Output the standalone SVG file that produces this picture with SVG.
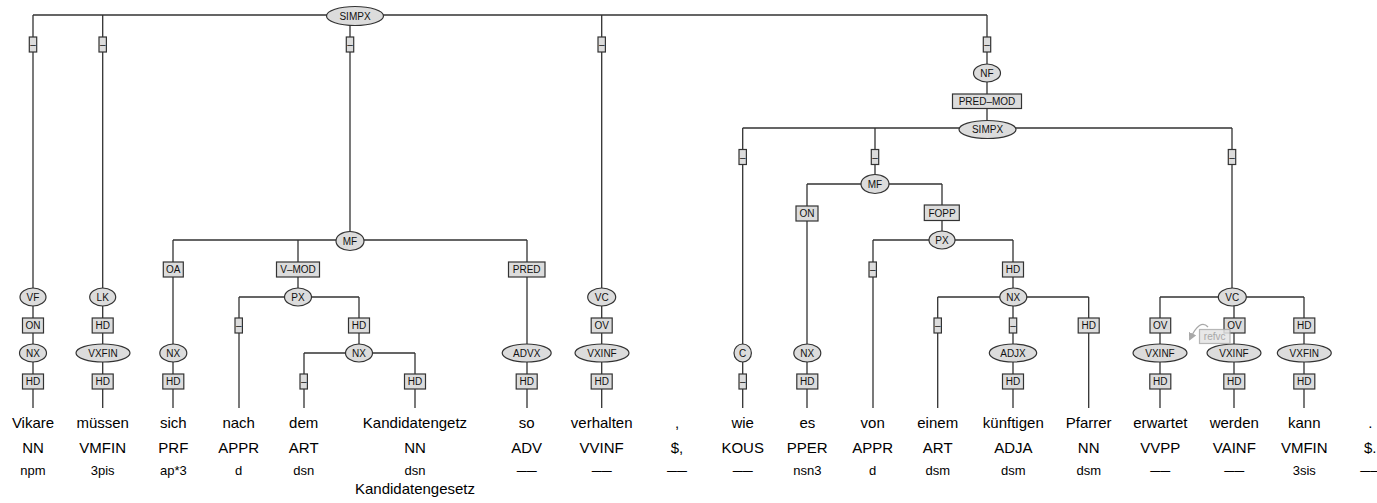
<svg xmlns="http://www.w3.org/2000/svg" width="1377" height="503" viewBox="0 0 1377 503">
<style>
.e{fill:#dcdcdc;stroke:#333;stroke-width:1.2}
.b{fill:#dcdcdc;stroke:#333;stroke-width:1.2}
.c{fill:none;stroke:#333;stroke-width:1.3}
.t{font-family:"Liberation Sans",Arial,sans-serif;font-size:10px;fill:#111;text-anchor:middle}
.w{font-family:"Liberation Sans",Arial,sans-serif;font-size:15px;fill:#000;text-anchor:middle}
.m{font-family:"Liberation Sans",Arial,sans-serif;font-size:13px;fill:#000;text-anchor:middle}
.d{font-family:"Liberation Sans",Arial,sans-serif;font-size:13px;fill:#000;text-anchor:start}
</style>
<defs>
<marker id="ah" markerWidth="8" markerHeight="8" refX="6" refY="4" orient="auto" markerUnits="userSpaceOnUse">
<path d="M0,0 L8,4 L0,8 Z" fill="#999"/>
</marker>
</defs>
<rect width="1377" height="503" fill="#fff"/>
<g id="connectors">
<path class="c" d="M33,15H987 M33,15V408 M102.7,15V408 M350,15V240 M601.7,15V408 M987,15V128"/>
<path class="c" d="M173,240H527 M173,240V408 M298,240V297 M527,240V408"/>
<path class="c" d="M239,297H359 M239,297V408 M359,297V353"/>
<path class="c" d="M304,353H415 M304,353V408 M415,353V408"/>
<path class="c" d="M742.7,128H1232 M742.7,128V408 M875,128V184 M1232,128V297"/>
<path class="c" d="M807,184H942 M807,184V408 M942,184V240"/>
<path class="c" d="M873,240H1013 M873,240V408 M1013,240V297"/>
<path class="c" d="M937.7,297H1088.7 M937.7,297V408 M1013,297V408 M1088.7,297V408"/>
<path class="c" d="M1160,297H1304 M1160,297V408 M1234,297V408 M1304,297V408"/>
</g>
<g id="n_simpx_top"><ellipse class="e" cx="355" cy="16" rx="28.5" ry="9.5"/><text class="t" x="355" y="19.5">SIMPX</text></g>
<g id="e_top1"><rect class="b" x="29.3" y="37" width="7.4" height="15"/><text class="t" x="33" y="48">–</text></g>
<g id="e_top2"><rect class="b" x="99" y="37" width="7.4" height="15"/><text class="t" x="102.7" y="48">–</text></g>
<g id="e_top3"><rect class="b" x="346.3" y="37" width="7.4" height="15"/><text class="t" x="350" y="48">–</text></g>
<g id="e_top4"><rect class="b" x="598" y="37" width="7.4" height="15"/><text class="t" x="601.7" y="48">–</text></g>
<g id="e_top5"><rect class="b" x="983.3" y="37" width="7.4" height="15"/><text class="t" x="987" y="48">–</text></g>
<g id="n_vf"><ellipse class="e" cx="33" cy="297" rx="13" ry="9"/><text class="t" x="33" y="300.5">VF</text></g>
<g id="e_on1"><rect class="b" x="22.5" y="318" width="21" height="15"/><text class="t" x="33" y="329">ON</text></g>
<g id="n_nx1"><ellipse class="e" cx="33" cy="353" rx="13.5" ry="9"/><text class="t" x="33" y="356.5">NX</text></g>
<g id="e_hd1"><rect class="b" x="22.5" y="374" width="21" height="15"/><text class="t" x="33" y="385">HD</text></g>
<g id="n_lk"><ellipse class="e" cx="102.7" cy="297" rx="13" ry="9"/><text class="t" x="102.7" y="300.5">LK</text></g>
<g id="e_hd2"><rect class="b" x="92.2" y="318" width="21" height="15"/><text class="t" x="102.7" y="329">HD</text></g>
<g id="n_vxfin1"><ellipse class="e" cx="103" cy="353" rx="27" ry="9"/><text class="t" x="103" y="356.5">VXFIN</text></g>
<g id="e_hd3"><rect class="b" x="92.2" y="374" width="21" height="15"/><text class="t" x="102.7" y="385">HD</text></g>
<g id="n_mf1"><ellipse class="e" cx="350" cy="241" rx="14" ry="9.5"/><text class="t" x="350" y="244.5">MF</text></g>
<g id="e_oa"><rect class="b" x="163.3" y="262" width="20" height="15"/><text class="t" x="173.3" y="273">OA</text></g>
<g id="n_nx2"><ellipse class="e" cx="173.3" cy="353" rx="13.5" ry="9"/><text class="t" x="173.3" y="356.5">NX</text></g>
<g id="e_hd4"><rect class="b" x="162.8" y="374" width="21" height="15"/><text class="t" x="173.3" y="385">HD</text></g>
<g id="e_vmod"><rect class="b" x="276.5" y="262" width="43" height="15"/><text class="t" x="298" y="273">V–MOD</text></g>
<g id="n_px1"><ellipse class="e" cx="298" cy="297" rx="13.5" ry="9"/><text class="t" x="298" y="300.5">PX</text></g>
<g id="e_d1"><rect class="b" x="235" y="318" width="7.4" height="15"/><text class="t" x="238.7" y="329">–</text></g>
<g id="e_hd5"><rect class="b" x="348.5" y="318" width="21" height="15"/><text class="t" x="359" y="329">HD</text></g>
<g id="n_nx3"><ellipse class="e" cx="359" cy="353" rx="13.5" ry="9"/><text class="t" x="359" y="356.5">NX</text></g>
<g id="e_d2"><rect class="b" x="300" y="374" width="7.4" height="15"/><text class="t" x="303.7" y="385">–</text></g>
<g id="e_hd6"><rect class="b" x="404.5" y="374" width="21" height="15"/><text class="t" x="415" y="385">HD</text></g>
<g id="e_pred"><rect class="b" x="508.5" y="262" width="36.5" height="15"/><text class="t" x="526.7" y="273">PRED</text></g>
<g id="n_advx"><ellipse class="e" cx="526.7" cy="353" rx="24.5" ry="9"/><text class="t" x="526.7" y="356.5">ADVX</text></g>
<g id="e_hd7"><rect class="b" x="516.2" y="374" width="21" height="15"/><text class="t" x="526.7" y="385">HD</text></g>
<g id="n_vc1"><ellipse class="e" cx="601.7" cy="297" rx="14" ry="9"/><text class="t" x="601.7" y="300.5">VC</text></g>
<g id="e_ov1"><rect class="b" x="591.2" y="318" width="21" height="15"/><text class="t" x="601.7" y="329">OV</text></g>
<g id="n_vxinf1"><ellipse class="e" cx="602" cy="353" rx="27" ry="9"/><text class="t" x="602" y="356.5">VXINF</text></g>
<g id="e_hd8"><rect class="b" x="591.2" y="374" width="21" height="15"/><text class="t" x="601.7" y="385">HD</text></g>
<g id="n_nf"><ellipse class="e" cx="987" cy="73" rx="13.5" ry="9"/><text class="t" x="987" y="76.5">NF</text></g>
<g id="e_predmod"><rect class="b" x="952.5" y="94" width="69" height="14.5"/><text class="t" x="987" y="105">PRED–MOD</text></g>
<g id="n_simpx2"><ellipse class="e" cx="987.5" cy="129.5" rx="28.5" ry="9"/><text class="t" x="987.5" y="133">SIMPX</text></g>
<g id="e_d3"><rect class="b" x="739" y="149.5" width="7.4" height="15"/><text class="t" x="742.7" y="160.5">–</text></g>
<g id="n_c"><ellipse class="e" cx="742.7" cy="353" rx="8.7" ry="9"/><text class="t" x="742.7" y="356.5">C</text></g>
<g id="e_d4"><rect class="b" x="739" y="374" width="7.4" height="15"/><text class="t" x="742.7" y="385">–</text></g>
<g id="e_d5"><rect class="b" x="871.3" y="149.5" width="7.4" height="15"/><text class="t" x="875" y="160.5">–</text></g>
<g id="n_mf2"><ellipse class="e" cx="875" cy="184" rx="14" ry="9.5"/><text class="t" x="875" y="187.5">MF</text></g>
<g id="e_on2"><rect class="b" x="796" y="206" width="22" height="15"/><text class="t" x="807" y="217">ON</text></g>
<g id="n_nx4"><ellipse class="e" cx="807.3" cy="353" rx="13.5" ry="9"/><text class="t" x="807.3" y="356.5">NX</text></g>
<g id="e_hd9"><rect class="b" x="796.8" y="374" width="21" height="15"/><text class="t" x="807.3" y="385">HD</text></g>
<g id="e_fopp"><rect class="b" x="924.3" y="205" width="35" height="15.5"/><text class="t" x="942" y="216.5">FOPP</text></g>
<g id="n_px2"><ellipse class="e" cx="942" cy="240" rx="13" ry="9"/><text class="t" x="942" y="243.5">PX</text></g>
<g id="e_d6"><rect class="b" x="869" y="262" width="7.4" height="15"/><text class="t" x="872.7" y="273">–</text></g>
<g id="e_hd10"><rect class="b" x="1002.5" y="262" width="21" height="15"/><text class="t" x="1013" y="273">HD</text></g>
<g id="n_nx5"><ellipse class="e" cx="1013.3" cy="297" rx="13.5" ry="9"/><text class="t" x="1013.3" y="300.5">NX</text></g>
<g id="e_d7"><rect class="b" x="934" y="318" width="7.4" height="15"/><text class="t" x="937.7" y="329">–</text></g>
<g id="e_d8"><rect class="b" x="1009.3" y="318" width="7.4" height="15"/><text class="t" x="1013" y="329">–</text></g>
<g id="n_adjx"><ellipse class="e" cx="1013" cy="353" rx="23.7" ry="9"/><text class="t" x="1013" y="356.5">ADJX</text></g>
<g id="e_hd11"><rect class="b" x="1002.5" y="374" width="21" height="15"/><text class="t" x="1013" y="385">HD</text></g>
<g id="e_hd12"><rect class="b" x="1078.2" y="318" width="21" height="15"/><text class="t" x="1088.7" y="329">HD</text></g>
<g id="e_d9"><rect class="b" x="1228.3" y="149.5" width="7.4" height="15"/><text class="t" x="1232" y="160.5">–</text></g>
<g id="n_vc2"><ellipse class="e" cx="1232.3" cy="297" rx="14" ry="9"/><text class="t" x="1232.3" y="300.5">VC</text></g>
<g id="e_ov2"><rect class="b" x="1150" y="318" width="20.7" height="15"/><text class="t" x="1160.3" y="329">OV</text></g>
<g id="n_vxinf2"><ellipse class="e" cx="1160" cy="353" rx="27" ry="9"/><text class="t" x="1160" y="356.5">VXINF</text></g>
<g id="e_hd13"><rect class="b" x="1149.8" y="374" width="21" height="15"/><text class="t" x="1160.3" y="385">HD</text></g>
<g id="e_ov3"><rect class="b" x="1224" y="318" width="21" height="15"/><text class="t" x="1234.5" y="329">OV</text></g>
<g id="n_vxinf3"><ellipse class="e" cx="1234" cy="353" rx="27" ry="9"/><text class="t" x="1234" y="356.5">VXINF</text></g>
<g id="e_hd14"><rect class="b" x="1223.8" y="374" width="21" height="15"/><text class="t" x="1234.3" y="385">HD</text></g>
<g id="e_hd15"><rect class="b" x="1293.8" y="318" width="21" height="15"/><text class="t" x="1304.3" y="329">HD</text></g>
<g id="n_vxfin2"><ellipse class="e" cx="1304.3" cy="353" rx="27" ry="9"/><text class="t" x="1304.3" y="356.5">VXFIN</text></g>
<g id="e_hd16"><rect class="b" x="1293.8" y="374" width="21" height="15"/><text class="t" x="1304.3" y="385">HD</text></g>
<g id="refvc" opacity="0.85">
<path d="M1208,327 Q1200,318 1190,339" fill="none" stroke="#999" stroke-width="1.3" marker-end="url(#ah)"/>
<rect x="1199.5" y="329.5" width="30.5" height="14" fill="#e4e4e4" stroke="#aaa" stroke-width="1.2"/>
<text x="1214.7" y="340" font-family="Liberation Sans, Arial, sans-serif" font-size="10" fill="#999" text-anchor="middle">refvc</text>
</g>
<g id="words">
<text class="w" x="33" y="428">Vikare</text>
<text class="w" x="102.7" y="428">müssen</text>
<text class="w" x="173.3" y="428">sich</text>
<text class="w" x="238.7" y="428">nach</text>
<text class="w" x="303.7" y="428">dem</text>
<text class="w" x="415" y="428">Kandidatengetz</text>
<text class="w" x="526.7" y="428">so</text>
<text class="w" x="601.7" y="428">verhalten</text>
<text class="w" x="677" y="428">,</text>
<text class="w" x="742.7" y="428">wie</text>
<text class="w" x="807.3" y="428">es</text>
<text class="w" x="872.7" y="428">von</text>
<text class="w" x="937.7" y="428">einem</text>
<text class="w" x="1013.3" y="428">künftigen</text>
<text class="w" x="1088.7" y="428">Pfarrer</text>
<text class="w" x="1160.3" y="428">erwartet</text>
<text class="w" x="1234.3" y="428">werden</text>
<text class="w" x="1304.3" y="428">kann</text>
<text class="w" x="1370.3" y="428">.</text>
</g>
<g id="pos">
<text class="w" x="33" y="453">NN</text>
<text class="w" x="102.7" y="453">VMFIN</text>
<text class="w" x="173.3" y="453">PRF</text>
<text class="w" x="238.7" y="453">APPR</text>
<text class="w" x="303.7" y="453">ART</text>
<text class="w" x="415" y="453">NN</text>
<text class="w" x="526.7" y="453">ADV</text>
<text class="w" x="601.7" y="453">VVINF</text>
<text class="w" x="677" y="453">$,</text>
<text class="w" x="742.7" y="453">KOUS</text>
<text class="w" x="807.3" y="453">PPER</text>
<text class="w" x="872.7" y="453">APPR</text>
<text class="w" x="937.7" y="453">ART</text>
<text class="w" x="1013.3" y="453">ADJA</text>
<text class="w" x="1088.7" y="453">NN</text>
<text class="w" x="1160.3" y="453">VVPP</text>
<text class="w" x="1234.3" y="453">VAINF</text>
<text class="w" x="1304.3" y="453">VMFIN</text>
<text class="w" x="1370.3" y="453">$.</text>
</g>
<g id="morph">
<text class="m" x="33" y="475">npm</text>
<text class="m" x="102.7" y="475">3pis</text>
<text class="m" x="173.3" y="475">ap*3</text>
<text class="m" x="238.7" y="475">d</text>
<text class="m" x="303.7" y="475">dsn</text>
<text class="m" x="415" y="475">dsn</text>
<text class="d" x="516.7" y="475" textLength="20" lengthAdjust="spacingAndGlyphs">––</text>
<text class="d" x="591.7" y="475" textLength="20" lengthAdjust="spacingAndGlyphs">––</text>
<text class="d" x="667" y="475" textLength="20" lengthAdjust="spacingAndGlyphs">––</text>
<text class="d" x="732.7" y="475" textLength="20" lengthAdjust="spacingAndGlyphs">––</text>
<text class="m" x="807.3" y="475">nsn3</text>
<text class="m" x="872.7" y="475">d</text>
<text class="m" x="937.7" y="475">dsm</text>
<text class="m" x="1013.3" y="475">dsm</text>
<text class="m" x="1088.7" y="475">dsm</text>
<text class="d" x="1150.3" y="475" textLength="20" lengthAdjust="spacingAndGlyphs">––</text>
<text class="d" x="1224.3" y="475" textLength="20" lengthAdjust="spacingAndGlyphs">––</text>
<text class="m" x="1304.3" y="475">3sis</text>
<text class="d" x="1360.3" y="475" textLength="20" lengthAdjust="spacingAndGlyphs">––</text>
</g>
<g id="lemma">
<text class="w" x="415" y="494">Kandidatengesetz</text>
</g>
</svg>
